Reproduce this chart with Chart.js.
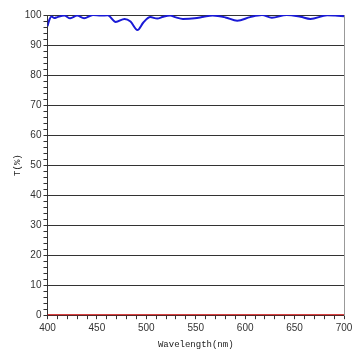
<!DOCTYPE html>
<html>
<head>
<meta charset="utf-8">
<script src="https://cdn.jsdelivr.net/npm/chart.js@4"></script>
<style>
  html, body { margin: 0; padding: 0; background: #fff; }
  #wrap { width: 360px; height: 360px; }
</style>
</head>
<body>
<div id="wrap"><canvas id="transChart"></canvas></div>
<script>
// wavelength (nm) and transmittance (%)
const wavelengths = [400, 402, 404, 407, 410, 417, 423, 430, 437, 446, 454, 461, 469, 478, 484, 491, 497, 504, 511, 517, 524, 530, 537, 549, 558, 567, 580, 592, 605, 617, 627, 642, 656, 666, 683, 691, 700];
const transmittance = [96.3, 98.5, 99.5, 99.0, 99.3, 99.8, 98.9, 99.8, 98.9, 100, 99.8, 99.9, 97.7, 98.7, 97.8, 95.0, 97.5, 99.3, 98.8, 99.4, 99.8, 99.2, 98.7, 98.9, 99.4, 99.8, 99.2, 98.1, 99.3, 100, 99.1, 100, 99.4, 98.7, 99.9, 99.8, 99.6];
const baselineX = [400, 700];
const baselineY = [0, 0];
const yTicks = [0, 10, 20, 30, 40, 50, 60, 70, 80, 90, 100];
const xTicks = [400, 450, 500, 550, 600, 650, 700];

const ctx = document.getElementById("transChart").getContext("2d");

new Chart(ctx, {
  type: "line",
  data: {
    datasets: [
      {
        data: wavelengths.map((w, i) => ({ x: w, y: transmittance[i] })),
        borderColor: "#1a1ad6",
        borderWidth: 2,
        pointRadius: 0,
        tension: 0.4,
        cubicInterpolationMode: "monotone",
      },
      {
        data: baselineX.map((w, i) => ({ x: w, y: baselineY[i] })),
        borderColor: "#c80000",
        borderWidth: 2,
        pointRadius: 0,
      },
    ],
  },
  options: {
    responsive: true,
    maintainAspectRatio: false,
    animation: false,
    layout: { padding: { top: 15, right: 16, left: 12, bottom: 6 } },
    plugins: { legend: { display: false }, tooltip: { enabled: false } },
    scales: {
      x: {
        type: "linear",
        min: 400,
        max: 700,
        ticks: {
          stepSize: 10,
          autoSkip: false,
          maxRotation: 0,
          color: "#333",
          font: { family: "Arial, 'Liberation Sans'", size: 10 },
          callback: (v) => (xTicks.includes(v) ? v : ""),
        },
        grid: {
          drawOnChartArea: false,
          tickLength: 4,
          tickColor: "#333",
        },
        border: { color: "#333" },
        title: {
          display: true,
          text: "Wavelength(nm)",
          color: "#222",
          font: { family: "'Liberation Mono'", size: 9 },
          padding: { top: 2 },
        },
      },
      y: {
        min: 0,
        max: 100,
        ticks: {
          stepSize: 2,
          autoSkip: false,
          padding: 2,
          color: "#333",
          font: { family: "Arial, 'Liberation Sans'", size: 10 },
          callback: (v) => (yTicks.includes(v) ? v : ""),
        },
        grid: {
          color: (c) => (yTicks.includes(c.tick.value) ? "#333" : "rgba(0,0,0,0)"),
          tickColor: "#333",
          tickLength: 4,
        },
        border: { color: "#333" },
        title: {
          display: true,
          text: "T(%)",
          color: "#222",
          font: { family: "'Liberation Mono'", size: 9 },
          padding: { top: 0, bottom: 0 },
        },
      },
      y2: {
        position: "right",
        min: 0,
        max: 100,
        ticks: { display: false },
        grid: { drawOnChartArea: false, drawTicks: false },
        border: { color: "#999" },
      },
    },
  },
});
</script>
</body>
</html>
